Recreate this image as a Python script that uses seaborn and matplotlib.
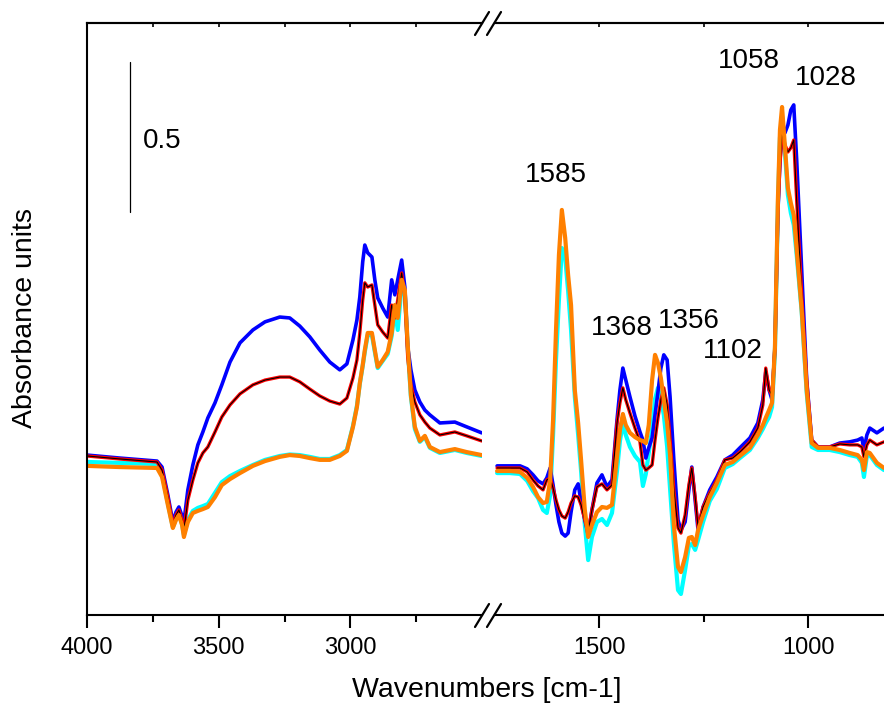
import numpy as np
import pandas as pd
import matplotlib
matplotlib.use("Agg")
import matplotlib.pyplot as plt
from matplotlib.lines import Line2D
import seaborn as sns

# ---------------- data ----------------
wn_left = [4000, 3875, 3734, 3715, 3693, 3674, 3662, 3651, 3639, 3632,
           3617, 3598, 3579, 3560, 3541, 3514, 3488, 3457, 3419, 3370,
           3324, 3268, 3230, 3192, 3154, 3116, 3078, 3040, 3013, 2990,
           2975, 2964, 2953, 2945, 2934, 2918, 2907, 2896, 2877, 2858,
           2843, 2831, 2820, 2805, 2793, 2782, 2770, 2755, 2736, 2717,
           2698, 2660, 2603, 2558, 2501]

blue_left = [0.533, 0.523, 0.513, 0.493, 0.400, 0.310, 0.343, 0.360, 0.330, 0.310,
             0.417, 0.500, 0.567, 0.610, 0.657, 0.707, 0.767, 0.843, 0.907, 0.950,
             0.977, 0.993, 0.990, 0.963, 0.927, 0.883, 0.843, 0.817, 0.837, 0.917,
             0.983, 1.060, 1.177, 1.233, 1.207, 1.193, 1.117, 1.057, 1.023, 0.993,
             1.117, 1.067, 1.117, 1.183, 1.093, 0.893, 0.817, 0.750, 0.710, 0.683,
             0.667, 0.640, 0.643, 0.627, 0.607]

red_left = [0.530, 0.520, 0.510, 0.483, 0.393, 0.300, 0.333, 0.350, 0.317, 0.283,
            0.383, 0.450, 0.507, 0.540, 0.560, 0.610, 0.660, 0.700, 0.737, 0.767,
            0.783, 0.793, 0.793, 0.777, 0.753, 0.730, 0.713, 0.703, 0.723, 0.790,
            0.850, 0.940, 1.050, 1.107, 1.093, 1.100, 1.033, 0.967, 0.943, 0.923,
            1.033, 0.990, 1.050, 1.140, 1.057, 0.857, 0.767, 0.710, 0.667, 0.643,
            0.623, 0.600, 0.610, 0.597, 0.580]

black_left = [0.530, 0.520, 0.510, 0.483, 0.393, 0.300, 0.333, 0.350, 0.317, 0.283,
              0.383, 0.450, 0.507, 0.540, 0.560, 0.610, 0.660, 0.700, 0.737, 0.767,
              0.783, 0.793, 0.793, 0.777, 0.753, 0.730, 0.713, 0.703, 0.723, 0.790,
              0.850, 0.940, 1.050, 1.107, 1.093, 1.100, 1.033, 0.967, 0.943, 0.923,
              1.033, 0.990, 1.050, 1.140, 1.057, 0.857, 0.767, 0.710, 0.667, 0.643,
              0.623, 0.600, 0.610, 0.597, 0.580]

cyan_left = [0.510, 0.507, 0.503, 0.470, 0.373, 0.293, 0.320, 0.337, 0.303, 0.267,
             0.317, 0.347, 0.357, 0.363, 0.370, 0.407, 0.443, 0.463, 0.480, 0.500,
             0.517, 0.530, 0.535, 0.533, 0.527, 0.520, 0.520, 0.533, 0.550, 0.630,
             0.697, 0.770, 0.830, 0.877, 0.933, 0.933, 0.877, 0.823, 0.847, 0.870,
             0.930, 1.017, 0.950, 1.100, 1.070, 0.890, 0.727, 0.620, 0.577, 0.593,
             0.557, 0.540, 0.550, 0.540, 0.530]

orange_left = [0.497, 0.493, 0.490, 0.460, 0.367, 0.290, 0.317, 0.333, 0.300, 0.260,
               0.310, 0.340, 0.347, 0.353, 0.360, 0.393, 0.433, 0.453, 0.473, 0.497,
               0.513, 0.527, 0.533, 0.530, 0.523, 0.517, 0.517, 0.530, 0.547, 0.627,
               0.693, 0.773, 0.833, 0.883, 0.940, 0.940, 0.883, 0.827, 0.850, 0.877,
               0.940, 1.033, 0.990, 1.117, 1.083, 0.900, 0.733, 0.627, 0.580, 0.597,
               0.560, 0.543, 0.553, 0.543, 0.533]

wn_right = [1745, 1714, 1690, 1673, 1659, 1647, 1635, 1626, 1618, 1611,
            1604, 1597, 1590, 1582, 1575, 1568, 1559, 1551, 1544, 1535,
            1527, 1518, 1506, 1494, 1482, 1470, 1458, 1451, 1444, 1437,
            1427, 1415, 1403, 1396, 1389, 1382, 1374, 1367, 1360, 1353,
            1346, 1338, 1331, 1322, 1312, 1305, 1295, 1286, 1279, 1271,
            1264, 1252, 1236, 1219, 1200, 1181, 1164, 1140, 1121, 1109,
            1102, 1094, 1087, 1080, 1073, 1068, 1063, 1056, 1049, 1042,
            1035, 1028, 1016, 1004, 992, 977, 949, 925, 901, 882,
            872, 867, 860, 853, 836, 819]

blue_right = [0.497, 0.497, 0.497, 0.487, 0.467, 0.447, 0.437, 0.457, 0.490, 0.433,
              0.367, 0.310, 0.273, 0.263, 0.273, 0.343, 0.417, 0.437, 0.377, 0.317,
              0.267, 0.350, 0.440, 0.467, 0.427, 0.450, 0.650, 0.750, 0.823, 0.783,
              0.727, 0.663, 0.610, 0.583, 0.523, 0.557, 0.590, 0.667, 0.743, 0.823,
              0.867, 0.850, 0.727, 0.517, 0.317, 0.283, 0.310, 0.417, 0.493, 0.383,
              0.283, 0.360, 0.417, 0.460, 0.517, 0.533, 0.557, 0.590, 0.640, 0.717,
              0.810, 0.750, 0.717, 0.893, 1.340, 1.517, 1.600, 1.607, 1.633, 1.683,
              1.700, 1.517, 1.150, 0.783, 0.583, 0.560, 0.560, 0.573, 0.577, 0.583,
              0.590, 0.550, 0.600, 0.623, 0.607, 0.623]

red_right = [0.490, 0.490, 0.490, 0.477, 0.450, 0.430, 0.417, 0.450, 0.457, 0.423,
             0.383, 0.350, 0.330, 0.323, 0.343, 0.373, 0.397, 0.393, 0.367, 0.317,
             0.277, 0.350, 0.427, 0.437, 0.417, 0.433, 0.640, 0.707, 0.757, 0.717,
             0.673, 0.623, 0.577, 0.500, 0.483, 0.490, 0.500, 0.583, 0.657, 0.717,
             0.757, 0.700, 0.583, 0.417, 0.290, 0.273, 0.333, 0.433, 0.490, 0.393,
             0.293, 0.360, 0.407, 0.450, 0.517, 0.523, 0.543, 0.577, 0.623, 0.700,
             0.823, 0.750, 0.733, 0.893, 1.340, 1.500, 1.607, 1.567, 1.543, 1.557,
             1.583, 1.383, 1.067, 0.783, 0.583, 0.560, 0.560, 0.570, 0.567, 0.567,
             0.560, 0.527, 0.567, 0.583, 0.567, 0.577]

black_right = [0.490, 0.490, 0.490, 0.477, 0.450, 0.430, 0.417, 0.450, 0.457, 0.423,
               0.383, 0.350, 0.330, 0.323, 0.343, 0.373, 0.397, 0.393, 0.367, 0.317,
               0.277, 0.350, 0.427, 0.437, 0.417, 0.433, 0.640, 0.707, 0.757, 0.717,
               0.673, 0.623, 0.577, 0.500, 0.483, 0.490, 0.500, 0.583, 0.657, 0.717,
               0.757, 0.700, 0.583, 0.417, 0.290, 0.273, 0.333, 0.433, 0.490, 0.393,
               0.293, 0.360, 0.407, 0.450, 0.517, 0.523, 0.543, 0.577, 0.623, 0.700,
               0.823, 0.750, 0.733, 0.893, 1.340, 1.500, 1.607, 1.567, 1.543, 1.557,
               1.583, 1.383, 1.067, 0.783, 0.583, 0.560, 0.560, 0.570, 0.567, 0.567,
               0.560, 0.527, 0.567, 0.583, 0.567, 0.577]

cyan_right = [0.473, 0.473, 0.470, 0.447, 0.413, 0.390, 0.350, 0.340, 0.400, 0.600,
              0.850, 1.050, 1.223, 1.190, 1.080, 0.950, 0.727, 0.600, 0.480, 0.300,
              0.183, 0.260, 0.310, 0.320, 0.300, 0.340, 0.480, 0.580, 0.640, 0.600,
              0.560, 0.530, 0.510, 0.430, 0.470, 0.540, 0.617, 0.720, 0.757, 0.720,
              0.667, 0.560, 0.420, 0.240, 0.083, 0.070, 0.150, 0.230, 0.237, 0.217,
              0.250, 0.310, 0.380, 0.420, 0.490, 0.503, 0.523, 0.550, 0.590, 0.620,
              0.640, 0.660, 0.693, 0.880, 1.360, 1.590, 1.660, 1.540, 1.400, 1.340,
              1.300, 1.200, 1.010, 0.740, 0.560, 0.550, 0.550, 0.543, 0.533, 0.527,
              0.507, 0.460, 0.530, 0.533, 0.500, 0.483]

orange_right = [0.480, 0.480, 0.477, 0.457, 0.427, 0.393, 0.373, 0.377, 0.450, 0.650,
                0.950, 1.200, 1.350, 1.257, 1.133, 1.033, 0.750, 0.640, 0.517, 0.350,
                0.260, 0.300, 0.343, 0.360, 0.357, 0.367, 0.527, 0.617, 0.670, 0.633,
                0.607, 0.593, 0.583, 0.580, 0.573, 0.633, 0.783, 0.867, 0.840, 0.790,
                0.717, 0.640, 0.533, 0.300, 0.160, 0.143, 0.193, 0.257, 0.260, 0.233,
                0.283, 0.333, 0.393, 0.440, 0.500, 0.510, 0.530, 0.557, 0.600, 0.633,
                0.657, 0.683, 0.707, 0.893, 1.383, 1.617, 1.693, 1.560, 1.423, 1.373,
                1.333, 1.217, 1.017, 0.750, 0.573, 0.557, 0.557, 0.550, 0.540, 0.533,
                0.517, 0.483, 0.543, 0.540, 0.507, 0.490]

peak_labels = ["1585", "1058", "1028", "1368", "1356", "1102"]
peak_label_x = [1604, 1142, 958, 1446, 1286, 1181]
peak_label_y = [1.443, 1.823, 1.767, 0.933, 0.957, 0.857]

left_ticks = [4000, 3500, 3000]
left_minor = [3750, 3250, 2750]
right_ticks = [1500, 1000]
right_minor = [1250]

# ---------------- style ----------------
sns.set_theme(style="white")
plt.rcParams["font.family"] = ["Liberation Sans", "DejaVu Sans"]
plt.rcParams["text.color"] = "black"
plt.rcParams["axes.labelcolor"] = "black"
plt.rcParams["xtick.color"] = "black"
plt.rcParams["ytick.color"] = "black"

series = [
    # name, left, right, color, lw
    ("cyan", cyan_left, cyan_right, "#00FFFF", 3.0),
    ("blue", blue_left, blue_right, "#0000FF", 2.6),
    ("red", red_left, red_right, "#FF0000", 2.4),
    ("black", black_left, black_right, "#000000", 0.8),
    ("orange", orange_left, orange_right, "#FF8000", 3.0),
]

fig = plt.figure(figsize=(8.84, 7.07), dpi=100)
W, H = 884.0, 707.0
ax1 = fig.add_axes([87 / W, 1 - 615 / H, 395 / W, 592 / H])
ax2 = fig.add_axes([495 / W, 1 - 615 / H, 389 / W, 592 / H])

for name, yl, yr, col, lw in series:
    dl = pd.DataFrame({"wn": wn_left, "A": yl})
    dr = pd.DataFrame({"wn": wn_right, "A": yr})
    sns.lineplot(data=dl, x="wn", y="A", ax=ax1, color=col, lw=lw,
                 sort=False, estimator=None)
    sns.lineplot(data=dr, x="wn", y="A", ax=ax2, color=col, lw=lw,
                 sort=False, estimator=None)

ymax = 1.973
ax1.set_xlim(4000, 2500)
ax2.set_xlim(1750, 819)
for ax in (ax1, ax2):
    ax.set_ylim(0, ymax)
    ax.set_yticks([])
    ax.set_xlabel("")
    ax.set_ylabel("")
    for s in ax.spines.values():
        s.set_linewidth(1.5)
        s.set_color("black")

ax1.spines["right"].set_visible(False)
ax2.spines["left"].set_visible(False)
ax2.spines["right"].set_visible(False)

ax1.set_xticks(left_ticks)
ax1.set_xticks(left_minor, minor=True)
ax2.set_xticks(right_ticks)
ax2.set_xticks(right_minor, minor=True)
for ax in (ax1, ax2):
    ax.tick_params(axis="x", which="major", direction="out", length=9,
                   width=1.5, labelsize=17, pad=7, color="black",
                   labelcolor="black", bottom=True, top=False)
    ax.tick_params(axis="x", which="minor", direction="out", length=5,
                   width=1.5, bottom=True, top=False, color="black")
    sec = ax.secondary_xaxis("top")
    sec.set_xticks(ax.get_xticks())
    sec.set_xticks(ax.get_xticks(minor=True), minor=True)
    sec.tick_params(axis="x", which="both", direction="in", length=3,
                    width=1.2, labeltop=False, color="black")
    sec.spines["top"].set_linewidth(1.5)

# scale bar
ax1.plot([3837, 3837], [1.343, 1.843], color="black", lw=0.9)
ax1.text(3787, 1.557, "0.5", fontsize=20, ha="left", va="baseline")

# peak labels
for lab, px, py in zip(peak_labels, peak_label_x, peak_label_y):
    ax2.text(px, py, lab, fontsize=20, ha="center", va="baseline")

# axis labels
fig.text(487 / W, 1 - 690 / H, "Wavenumbers [cm-1]", ha="center",
         va="center", fontsize=20.5)
fig.text(25 / W, 1 - 318 / H, "Absorbance units", rotation=90, ha="center",
         va="center", fontsize=20.5)

# break marks
def brk(x0, y0, x1, y1):
    fig.add_artist(Line2D([x0 / W, x1 / W], [1 - y0 / H, 1 - y1 / H],
                          color="black", lw=1.6))

for yc in (23, 615):
    brk(475, yc + 12, 489, yc - 11)
    brk(487, yc + 12, 501, yc - 11)

fig.savefig("out.png", dpi=100)
